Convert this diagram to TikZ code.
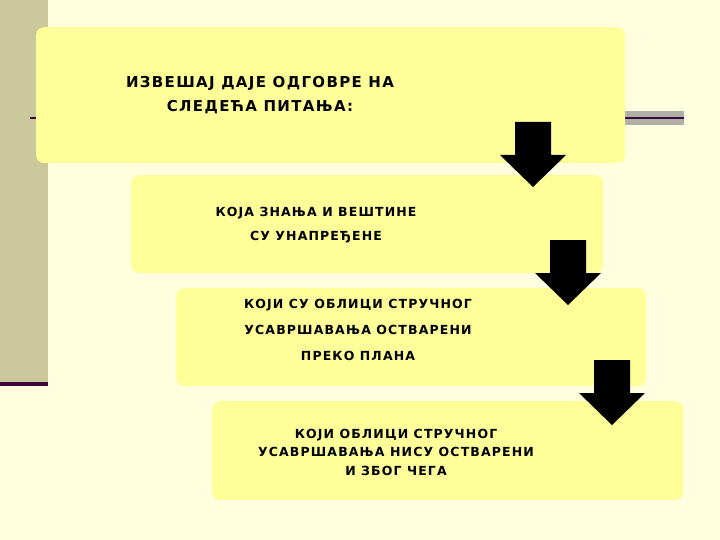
\documentclass[tikz,border=0pt]{standalone}
\usepackage{fontspec}
\setmainfont{DejaVu Sans}[LetterSpace=9]
\begin{document}
\begin{tikzpicture}[x=1pt,y=-1pt,
  card/.style={fill=boxy,rounded corners=8pt,draw=none},
  txt/.style={align=center,text=black},
  darr/.style={fill=black}]
\definecolor{bg}{HTML}{FFFFE0}
\definecolor{boxy}{HTML}{FFFF99}
\definecolor{strip}{HTML}{CBC89C}
\definecolor{dline}{HTML}{3A0A38}
\definecolor{gband}{HTML}{B0B0A8}
\fill[bg] (0,0) rectangle (720,540);
\useasboundingbox (0,0) rectangle (720,540);
\fill[strip] (0,0) rectangle (48,383);
\fill[dline] (0,382) rectangle (48,386);
\draw[dline,line width=1.2pt] (30,118) -- (36,118);
\fill[gband] (625,111) rectangle (684,125);
\draw[dline,line width=1.2pt] (625,118) -- (684,118);
\node[card,minimum width=589,minimum height=136,anchor=north west] (b1) at (36,27) {};
\node[card,minimum width=472,minimum height=98,anchor=north west] (b2) at (131,175) {};
\node[card,minimum width=470,minimum height=98,anchor=north west] (b3) at (176,288) {};
\node[card,minimum width=471,minimum height=99,anchor=north west] (b4) at (212,401) {};
\node[txt,font=\bfseries\fontsize{15}{24}\selectfont] (t1) at (260,95) {ИЗВЕШАЈ ДАЈЕ ОДГОВРЕ НА\\СЛЕДЕЋА ПИТАЊА:};
\node[txt,font=\bfseries\fontsize{12.5}{24}\selectfont] (t2) at (316,225) {КОЈА ЗНАЊА И ВЕШТИНЕ\\СУ УНАПРЕЂЕНЕ};
\node[txt,font=\bfseries\fontsize{12.5}{26}\selectfont] (t3) at (358,330) {КОЈИ СУ ОБЛИЦИ СТРУЧНОГ\\УСАВРШАВАЊА ОСТВАРЕНИ\\ПРЕКО ПЛАНА};
\node[txt,font=\bfseries\fontsize{12.5}{18.5}\selectfont] (t4) at (396,452) {КОЈИ ОБЛИЦИ СТРУЧНОГ\\УСАВРШАВАЊА НИСУ ОСТВАРЕНИ\\И ЗБОГ ЧЕГА};
\foreach \cx/\ty in {533/122,568/240,612/360}{
  \fill[darr] (\cx-18,\ty) -- (\cx+18,\ty) -- (\cx+18,\ty+33) -- (\cx+33,\ty+33) -- (\cx,\ty+65) -- (\cx-33,\ty+33) -- (\cx-18,\ty+33) -- cycle;
}
\end{tikzpicture}
\end{document}
